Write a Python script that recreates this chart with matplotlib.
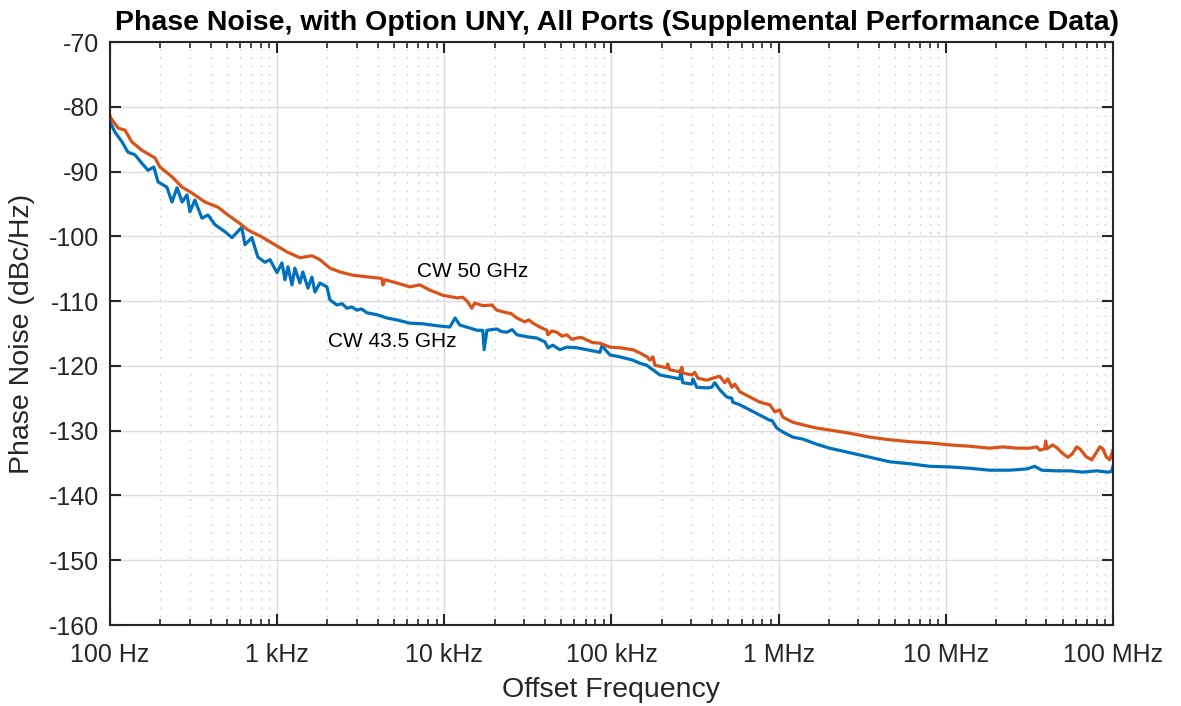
import numpy as np
import matplotlib
matplotlib.use("Agg")
import matplotlib.pyplot as plt
from matplotlib.ticker import FixedLocator, LogLocator, NullFormatter

plt.rcParams['font.family'] = ['Liberation Sans', 'DejaVu Sans']
plt.rcParams['axes.unicode_minus'] = False

# CW 50 GHz trace: offset frequency (Hz) and phase noise (dBc/Hz)
f_50 = [100, 101, 112, 123, 135, 155, 186, 199, 235, 270, 309, 370, 443, 508,
        583, 668, 811, 970, 1145, 1368, 1615, 1803, 2070, 2376, 2839, 3589,
        4236, 4295, 4415, 5204, 6223, 7145, 8199, 9813, 11900, 12900, 13800,
        14600, 15200, 17000, 19300, 20600, 23700, 25000, 27200, 30300, 32000,
        33900, 37300, 41100, 41700, 44000, 47100, 50500, 54100, 58000, 62100,
        66000, 71300, 77000, 85300, 97800, 112e3, 134e3,
        148e3, 163e3, 170e3, 177e3, 182e3, 214e3, 217e3, 223e3, 256e3, 264e3,
        267e3, 303e3, 315e3, 329e3, 372e3, 427e3, 445e3, 476e3, 497e3, 525e3,
        547e3, 586e3, 673e3, 773e3, 886e3, 949e3, 1.016e6, 1.059e6, 1.216e6,
        1.397e6, 1.692e6, 2.02e6, 2.67e6, 3.51e6, 4.62e6, 6.09e6, 8.02e6,
        10.6e6, 13.9e6, 18.3e6, 21.9e6, 26.6e6, 31.8e6, 35.0e6, 36.5e6, 39.0e6,
        39.6e6, 40.2e6, 43.6e6, 46.0e6, 50.0e6, 53.7e6, 57.0e6, 60.7e6, 64.0e6,
        69.0e6, 74.6e6, 79.0e6, 83.4e6, 87.0e6, 91.0e6, 95.7e6, 100e6]
pn_50 = [-81.4, -81.7, -83.3, -83.6, -85.4, -86.7, -87.9, -89.3, -90.8, -92.4,
         -93.3, -94.7, -95.5, -96.7, -97.8, -99.0, -100.1, -101.3, -102.4,
         -103.3, -103.0, -103.6, -104.9, -105.5, -106.0, -106.3, -106.5,
         -107.5, -106.7, -107.2, -107.8, -107.5, -108.3, -109.1, -109.5,
         -109.4, -110.1, -111.1, -110.3, -110.7, -110.6, -111.4, -111.8,
         -111.9, -112.6, -113.2, -112.9, -113.4, -114.0, -114.5, -115.2,
         -114.6, -114.8, -115.4, -115.2, -115.9, -115.7, -115.6, -116.0,
         -116.4, -116.5, -117.1, -117.2, -117.5, -118.0, -118.6,
         -119.1, -118.6, -119.9, -120.3, -119.7, -120.6, -120.9, -120.2,
         -121.1, -121.4, -121.0, -121.9, -122.2, -121.7, -121.6, -122.6,
         -122.0, -123.3, -122.8, -124.0, -124.8, -125.6, -126.0, -127.1,
         -126.8, -127.9, -128.7, -129.1, -129.6, -129.9, -130.4, -131.0,
         -131.4, -131.7, -131.9, -132.2, -132.4, -132.7, -132.5, -132.7,
         -132.7, -132.5, -133.0, -132.8, -131.6, -132.8, -132.2, -132.6,
         -133.5, -134.1, -133.6, -132.5, -132.9, -134.0, -134.5, -133.5,
         -132.5, -132.8, -134.0, -134.5, -133.0]

# CW 43.5 GHz trace
f_435 = [100, 107, 118, 128, 141, 155, 169, 183, 194, 219, 235, 252, 270, 289,
         301, 322, 355, 386, 425, 488, 537, 615, 642, 706, 767, 845, 906, 998,
         1069, 1114, 1161, 1227, 1277, 1368, 1426, 1528, 1615, 1683, 1803,
         1986, 2070, 2279, 2450, 2614, 2800, 3001, 3200, 3446, 3954, 4539,
         5204, 6223, 7447, 9032, 10800, 11600, 12400, 13600, 15700, 17000,
         17300, 18000, 20600, 22000, 23700, 25500, 27200, 31200, 35800, 40000,
         41700, 44600, 49100, 54100, 62100, 71300, 85300, 87700, 97800, 112e3,
         134e3, 148e3, 163e3, 170e3, 177e3, 195e3, 223e3, 256e3, 260e3, 267e3,
         303e3, 307e3, 324e3, 372e3, 398e3, 415e3, 445e3, 490e3, 525e3, 532e3,
         586e3, 673e3, 773e3, 886e3, 911e3, 975e3, 1.059e6, 1.216e6, 1.397e6,
         1.692e6, 2.02e6, 2.67e6, 3.51e6, 4.62e6, 6.09e6, 8.02e6, 10.6e6,
         13.9e6, 18.3e6, 24.2e6, 30.5e6, 34.0e6, 37.5e6, 46.1e6, 55.2e6,
         65.9e6, 80.0e6, 93.1e6, 98.0e6, 100e6]
pn_435 = [-82.3, -83.9, -85.4, -87.0, -87.4, -88.7, -89.8, -89.3, -91.6, -92.4,
          -94.7, -92.5, -94.7, -93.6, -96.2, -94.4, -97.2, -96.7, -98.2,
          -99.3, -100.2, -98.6, -101.3, -100.2, -103.2, -104.0, -103.6,
          -105.6, -104.1, -106.7, -104.7, -107.5, -104.9, -107.2, -105.5,
          -108.0, -106.3, -108.6, -107.2, -107.8, -109.8, -110.6, -110.4,
          -111.1, -110.9, -111.4, -111.2, -111.8, -112.1, -112.6, -112.9,
          -113.4, -113.5, -113.8, -114.0, -112.6, -113.7, -114.0, -114.5,
          -114.5, -117.5, -114.5, -114.3, -114.7, -114.8, -114.4, -115.2,
          -115.5, -115.7, -116.3, -117.2, -116.8, -117.5, -117.1, -117.2,
          -117.5, -117.9, -116.9, -118.3, -118.6, -119.1, -119.6, -119.9,
          -120.3, -120.6, -121.4, -121.7, -122.0, -120.9, -122.6, -122.8,
          -122.0, -123.3, -123.4, -123.3, -122.6, -123.7, -124.8, -125.0,
          -125.6, -126.0, -126.8, -127.6, -128.4, -128.4, -129.6, -130.2,
          -131.0, -131.3, -132.1, -132.7, -133.4, -134.1, -134.8, -135.1,
          -135.5, -135.6, -135.8, -136.1, -136.1, -135.9, -135.5, -136.1,
          -136.2, -136.2, -136.4, -136.2, -136.4, -136.3, -135.5]

x_ticks = [1e2, 1e3, 1e4, 1e5, 1e6, 1e7, 1e8]
x_labels = ['100 Hz', '1 kHz', '10 kHz', '100 kHz', '1 MHz', '10 MHz', '100 MHz']
y_ticks = list(range(-160, -69, 10))

fig = plt.figure(figsize=(11.81, 7.06), dpi=100)
ax = fig.add_axes([0.0931, 0.1147, 0.8493, 0.8258])

ax.semilogx(f_435, pn_435, color='#0072BD', lw=2.3)
ax.semilogx(f_50, pn_50, color='#D95319', lw=2.3)

ax.set_xlim(1e2, 1e8)
ax.set_ylim(-160, -70)
ax.xaxis.set_major_locator(FixedLocator(x_ticks))
ax.set_xticklabels(x_labels)
ax.xaxis.set_minor_locator(LogLocator(base=10, subs=np.arange(2, 10)))
ax.xaxis.set_minor_formatter(NullFormatter())
ax.set_yticks(y_ticks)

ax.grid(True, which='major', color='#dcdcdc', lw=1.0, ls='-')
ax.grid(True, which='minor', axis='x', color='#c4c4c4', lw=1.0, ls=(0, (1, 5)))
ax.set_axisbelow(True)

ax.tick_params(which='both', direction='in', top=True, right=True,
               colors='#262626', labelsize=18)
ax.tick_params(which='major', length=8, width=1.5)
ax.tick_params(which='minor', length=4, width=1.2)
ax.tick_params(axis='x', pad=13)
ax.tick_params(axis='y', pad=8)
for s in ax.spines.values():
    s.set_color('#262626')
    s.set_linewidth(1.5)

ax.set_xlabel('Offset Frequency', fontsize=20.5, color='#262626', labelpad=7)
ax.set_ylabel('Phase Noise (dBc/Hz)', fontsize=20.5, color='#262626', labelpad=10)
ax.set_title('Phase Noise, with Option UNY, All Ports (Supplemental Performance Data)',
             fontsize=20.5, fontweight='bold', pad=9, x=0.506)

ax.text(6850, -105.5, 'CW 50 GHz', fontsize=15, va='center', ha='left')
ax.text(2014, -116.3, 'CW 43.5 GHz', fontsize=15, va='center', ha='left')

fig.savefig('out.png', dpi=100)
